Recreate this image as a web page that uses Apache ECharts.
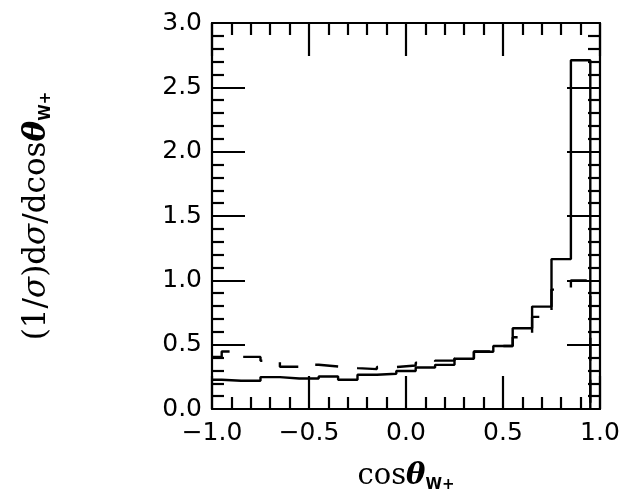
<!DOCTYPE html>
<html><head><meta charset="utf-8">
<script src="https://cdn.jsdelivr.net/npm/echarts@6/dist/echarts.min.js"></script>
<style>html,body{margin:0;padding:0;background:#fff}#c{width:626px;height:500px}</style>
</head><body><div id="c"></div>
<script>
// Bin left edges (last entry is the right edge of the last bin)
const binEdges = [-1.0, -0.95, -0.85, -0.75, -0.65, -0.55, -0.45, -0.35, -0.25, -0.15, -0.05,
                  0.05, 0.15, 0.25, 0.35, 0.45, 0.55, 0.65, 0.75, 0.85, 0.95];
const solidValues = [0.227, 0.219, 0.219, 0.248, 0.237, 0.237, 0.253, 0.227, 0.266, 0.274,
                     0.295, 0.322, 0.343, 0.390, 0.445, 0.490, 0.628, 0.796, 1.165, 2.710];
const dashedValues = [0.405, 0.447, 0.405, 0.375, 0.328, 0.344, 0.330, 0.318, 0.310, 0.326,
                      0.338, 0.360, 0.376, 0.395, 0.447, 0.490, 0.558, 0.716, 0.928, 1.000];
const xTickValues = [-1.0, -0.5, 0.0, 0.5, 1.0];
const yTickValues = [0.0, 0.5, 1.0, 1.5, 2.0, 2.5, 3.0];

function stepData(edges, vals) {
  const d = vals.map((v, i) => [edges[i], v]);
  d.push([edges[edges.length - 1], 0]);
  return d;
}

const chart = echarts.init(document.getElementById('c'), null, {renderer: 'canvas'});
const tickFont = {fontFamily: 'DejaVu Sans', fontSize: 25, color: '#000'};
const axisW = 2.2;
const seriesW = 2.4;
function axisCommon() {
  return {
    axisLine: {show: true, onZero: false, lineStyle: {color: '#000', width: axisW}},
    axisTick: {show: true, inside: true, length: 33, lineStyle: {color: '#000', width: axisW}},
    minorTick: {show: true, splitNumber: 5, length: 12, lineStyle: {color: '#000', width: axisW}},
    splitLine: {show: false},
    minorSplitLine: {show: false}
  };
}
const fmt = v => {
  const s = (Math.round(v * 10) / 10).toFixed(1);
  return s.replace('-', '\u2212');
};
function richFor(size, subSize, subPad) {
  return {
    m: {fontFamily: 'DejaVu Serif', fontSize: size, color: '#000'},
    g: {fontFamily: 'DejaVu Serif', fontSize: size, fontStyle: 'italic', color: '#000'},
    t: {fontFamily: 'DejaVu Serif', fontSize: size, fontWeight: 'bold', fontStyle: 'italic', color: '#000'},
    s: {fontFamily: 'DejaVu Sans', fontSize: subSize, fontWeight: 'bold', color: '#000', padding: [subPad, 0, 0, 0], verticalAlign: 'bottom'}
  };
}

chart.setOption({
  animation: false,
  backgroundColor: '#fff',
  grid: {left: 212, right: 26, top: 23, bottom: 91, containLabel: false},
  xAxis: [
    Object.assign({
      type: 'value', min: xTickValues[0], max: xTickValues[xTickValues.length - 1], interval: 0.5,
      position: 'bottom',
      axisLabel: Object.assign({show: true, margin: 12, formatter: fmt}, tickFont),
      name: '{m|cos}{t|θ}{s|W+}', nameLocation: 'middle', nameGap: 50,
      nameTextStyle: {rich: richFor(29, 15, 19)}
    }, axisCommon()),
    Object.assign({
      type: 'value', min: xTickValues[0], max: xTickValues[xTickValues.length - 1], interval: 0.5,
      position: 'top', axisLabel: {show: false}
    }, axisCommon())
  ],
  yAxis: [
    Object.assign({
      type: 'value', min: yTickValues[0], max: yTickValues[yTickValues.length - 1], interval: 0.5,
      position: 'left',
      axisLabel: Object.assign({show: true, margin: 10, formatter: fmt}, tickFont),
      name: '{m|(1/}{g|σ}{m|)d}{g|σ}{m|/dcos}{t|θ}{s|W+}', nameLocation: 'middle', nameGap: 158, nameRotate: 90,
      nameTextStyle: {rich: richFor(31, 15, 19)}
    }, axisCommon()),
    Object.assign({
      type: 'value', min: yTickValues[0], max: yTickValues[yTickValues.length - 1], interval: 0.5,
      position: 'right', axisLabel: {show: false}
    }, axisCommon())
  ],
  series: [
    {
      type: 'line', step: 'end', symbol: 'none', xAxisIndex: 0, yAxisIndex: 0,
      data: stepData(binEdges, dashedValues),
      lineStyle: {color: '#000', width: seriesW, type: [23, 19]}
    },
    {
      type: 'line', step: 'end', symbol: 'none', xAxisIndex: 0, yAxisIndex: 0,
      data: stepData(binEdges, solidValues),
      lineStyle: {color: '#000', width: seriesW, type: 'solid'}
    }
  ]
});
</script>
</body></html>
